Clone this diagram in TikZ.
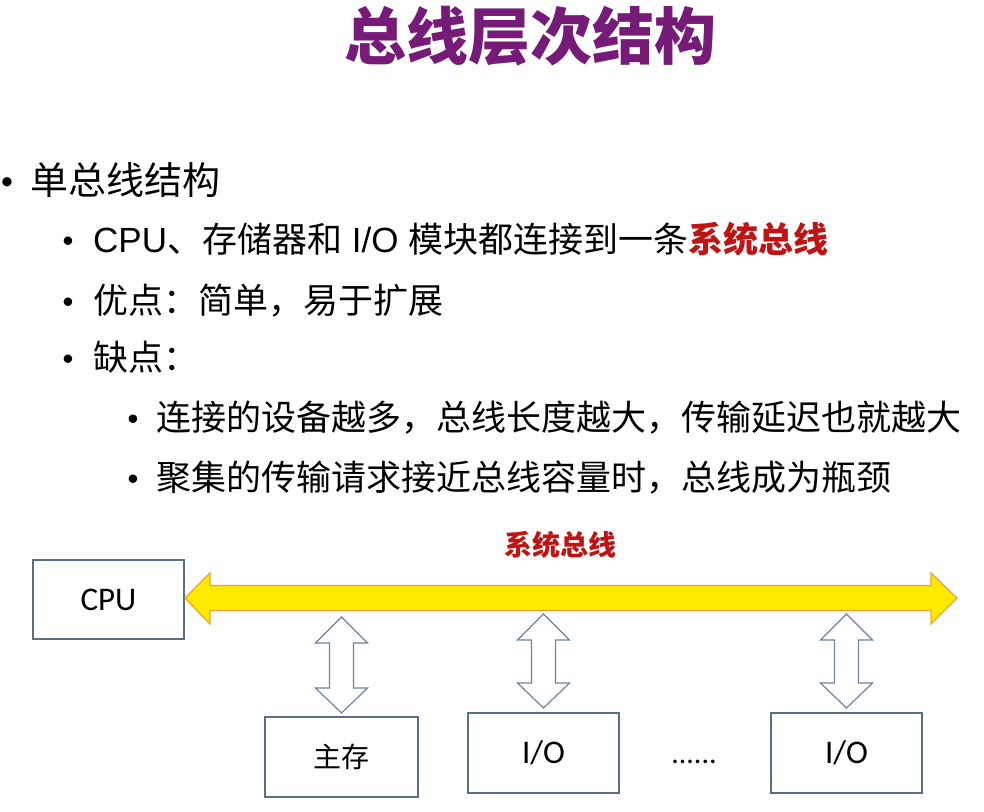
\documentclass[tikz,border=0pt]{standalone}
\usepackage{fontspec}
\setmainfont{Noto Sans CJK SC}
\newfontfamily\latfont{Liberation Sans}
\newfontfamily\calfont{Carlito}
\definecolor{titlepurple}{RGB}{118,28,120}
\definecolor{busred}{RGB}{192,20,20}
\definecolor{busyellow}{RGB}{255,234,0}
\definecolor{busorange}{RGB}{238,160,60}
\definecolor{boxline}{RGB}{92,110,130}
\definecolor{arrline}{RGB}{112,132,158}
\begin{document}
\begin{tikzpicture}[x=1pt,y=-1pt,
  txtone/.style={inner sep=0pt,anchor=base west,font=\fontsize{38}{44}\selectfont},
  txttwo/.style={inner sep=0pt,anchor=base west,font=\fontsize{35}{42}\selectfont},
  bulone/.style={inner sep=0pt,anchor=base,font=\latfont\fontsize{34}{40}\selectfont},
  bultwo/.style={inner sep=0pt,anchor=base,font=\latfont\fontsize{31}{38}\selectfont},
  modbox/.style={draw=boxline,line width=1.3pt,fill=white,minimum width=151pt,minimum height=80pt,inner sep=0pt},
  vda/.style={draw=arrline,line width=1.2pt,fill=white,line join=miter},
  busarrow/.style={draw=busorange,line width=1.2pt,fill=busyellow,line join=miter}]
\useasboundingbox (0,0) rectangle (984,811);
\fill[white] (0,0) rectangle (984,811);

% title
\node[inner sep=0pt,anchor=base,text=titlepurple,font=\fontsize{62}{70}\selectfont\bfseries] (title) at (530,59) {总线层次结构};

% bullets
\node[bulone] (b1) at (7,193) {•};
\node[txtone] (l1) at (30,194) {单总线结构};
\node[bultwo] (b2) at (68,251) {•};
\node[txttwo] (l2) at (93,252) {{\latfont CPU}、存储器和{\latfont\ I/O }模块都连接到一条{\color{busred}\bfseries 系统总线}};
\node[bultwo] (b3) at (68,312) {•};
\node[txttwo] (l3) at (93,313) {优点：简单，易于扩展};
\node[bultwo] (b4) at (68,369) {•};
\node[txttwo] (l4) at (93,370) {缺点：};
\node[bultwo] (b5) at (133,429) {•};
\node[txttwo] (l5) at (156,430) {连接的设备越多，总线长度越大，传输延迟也就越大};
\node[bultwo] (b6) at (133,489) {•};
\node[txttwo] (l6) at (156,490) {聚集的传输请求接近总线容量时，总线成为瓶颈};

% boxes
\node[modbox,minimum height=79pt] (cpu) at (108.5,599.5) {\calfont\fontsize{33}{38}\selectfont CPU};
\node[modbox,minimum width=153pt] (mem) at (341.5,757) {\fontsize{28}{34}\selectfont 主存};
\node[modbox] (io1) at (543.5,753) {\calfont\fontsize{33}{38}\selectfont I/O};
\node[modbox] (io2) at (846.5,753) {\calfont\fontsize{33}{38}\selectfont I/O};
\node[inner sep=0pt,anchor=base,font=\calfont\fontsize{30}{34}\selectfont] (dots) at (694,763) {......};

% system bus
\draw[busarrow] (185,598) -- (210,573) -- (210,585.5) -- (931,585.5) -- (931,573) -- (957,598)
  -- (931,624) -- (931,610.5) -- (210,610.5) -- (210,624) -- cycle;
\node[inner sep=0pt,text=busred,font=\fontsize{28}{34}\selectfont\bfseries] (buslabel) at (560,545) {系统总线};

% vertical double arrows
\newcommand\vdarr[3]{%
  \draw[vda] (#1,#2) -- ({#1+26},{#2+26}) -- ({#1+12},{#2+26}) -- ({#1+12},{#3-25})
    -- ({#1+26},{#3-25}) -- (#1,#3) -- ({#1-26},{#3-25}) -- ({#1-12},{#3-25})
    -- ({#1-12},{#2+26}) -- ({#1-26},{#2+26}) -- cycle;}
\vdarr{341.5}{617}{713}
\vdarr{543.5}{614}{708}
\vdarr{846.5}{614}{708}
\end{tikzpicture}
\end{document}
